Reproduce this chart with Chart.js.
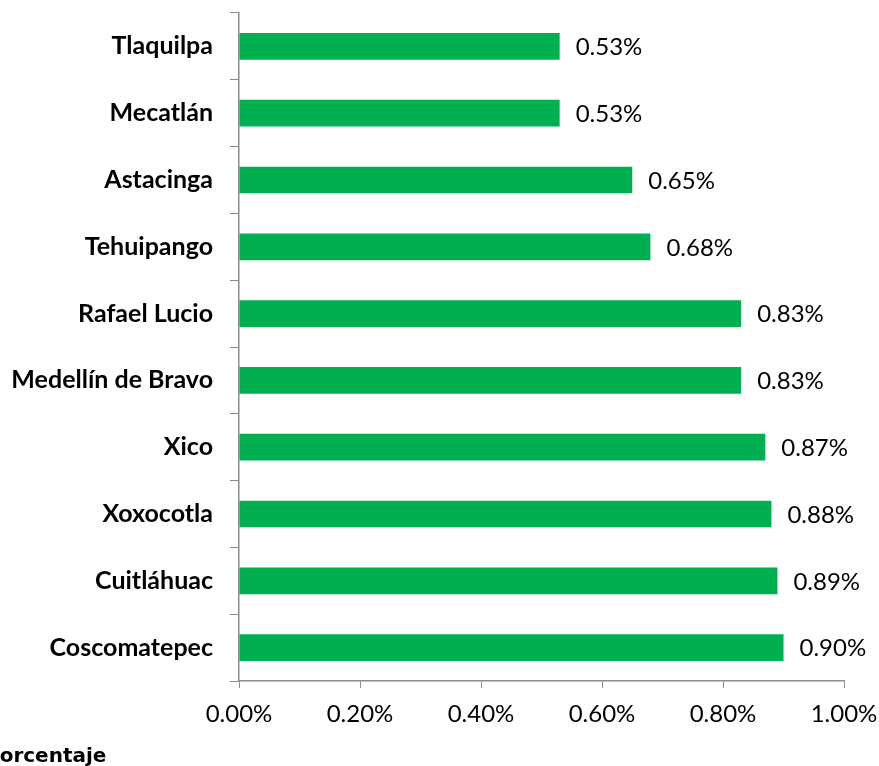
<!DOCTYPE html>
<html>
<head>
<meta charset="utf-8">
<script src="https://cdn.jsdelivr.net/npm/chart.js@4"></script>
<style>
  html, body { margin: 0; padding: 0; background: #fff; overflow: hidden; }
</style>
</head>
<body>
<canvas id="grafico" width="879" height="766"></canvas>
<script>
// municipios (de arriba hacia abajo)
const municipios = [
  'Tlaquilpa', 'Mecatlán', 'Astacinga', 'Tehuipango', 'Rafael Lucio',
  'Medellín de Bravo', 'Xico', 'Xoxocotla', 'Cuitláhuac', 'Coscomatepec'
];
const porcentajes = [0.53, 0.53, 0.65, 0.68, 0.83, 0.83, 0.87, 0.88, 0.89, 0.90];
const ticksX = [0, 0.2, 0.4, 0.6, 0.8, 1.0];
const tituloEje = 'Porcentaje';

const colorBarra = '#00B050';
const colorEje = '#8c8c8c';
const fuente = 'Lato, "Open Sans", sans-serif';

// etiquetas de valor al final de cada barra + título del eje abajo a la izquierda
const etiquetasValor = {
  id: 'etiquetasValor',
  afterDatasetsDraw(chart) {
    const ctx = chart.ctx;
    const meta = chart.getDatasetMeta(0);
    ctx.save();
    ctx.font = '24px ' + fuente;
    ctx.fillStyle = '#000';
    ctx.textAlign = 'left';
    ctx.textBaseline = 'middle';
    meta.data.forEach((barra, i) => {
      ctx.fillText(porcentajes[i].toFixed(2) + '%', barra.x + 16, barra.y + 1);
    });
    ctx.font = 'bold 20px "DejaVu Sans", sans-serif';
    ctx.textBaseline = 'alphabetic';
    ctx.fillText(tituloEje, -15, 762);
    ctx.restore();
  }
};

const ctx = document.getElementById('grafico').getContext('2d');
new Chart(ctx, {
  type: 'bar',
  data: {
    labels: municipios,
    datasets: [{
      data: porcentajes,
      backgroundColor: colorBarra,
      categoryPercentage: 1,
      barPercentage: 0.4
    }]
  },
  options: {
    indexAxis: 'y',
    responsive: false,
    animation: false,
    devicePixelRatio: 1,
    layout: { padding: { top: 13, right: 35, left: 0, bottom: 0 } },
    plugins: {
      legend: { display: false },
      tooltip: { enabled: false }
    },
    scales: {
      x: {
        min: 0,
        max: 1,
        afterBuildTicks: scale => { scale.ticks = ticksX.map(v => ({ value: v })); },
        afterFit: scale => {
          scale.height = 85;
          scale.paddingLeft = 0;
          scale.paddingRight = 0;
        },
        ticks: {
          color: '#000',
          font: { family: fuente, size: 24 },
          padding: 12,
          maxRotation: 0,
          callback: v => v.toFixed(2) + '%'
        },
        grid: { drawOnChartArea: false, color: colorEje, tickLength: 7 },
        border: { color: colorEje, width: 1.5 }
      },
      y: {
        afterFit: scale => {
          scale.width = 239;
          scale.paddingTop = 0;
          scale.paddingBottom = 0;
        },
        ticks: {
          color: '#000',
          font: { family: fuente, size: 25, weight: 'bold' },
          padding: 17
        },
        grid: { drawOnChartArea: false, color: colorEje, tickLength: 9, offset: true },
        border: { color: colorEje, width: 1.5 }
      }
    }
  },
  plugins: [etiquetasValor]
});
</script>
</body>
</html>
